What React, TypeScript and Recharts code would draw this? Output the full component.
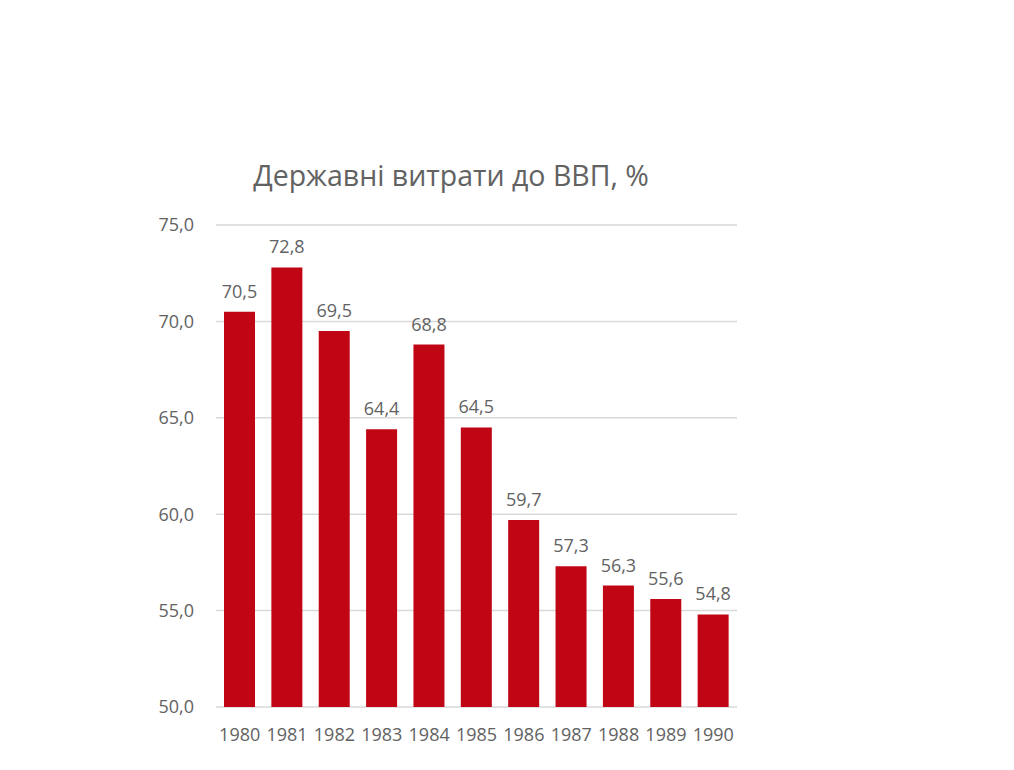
import React from 'react';
import { BarChart, Bar, XAxis, YAxis, CartesianGrid, LabelList } from 'recharts';

const years = ['1980', '1981', '1982', '1983', '1984', '1985', '1986', '1987', '1988', '1989', '1990'];
const values = [70.5, 72.8, 69.5, 64.4, 68.8, 64.5, 59.7, 57.3, 56.3, 55.6, 54.8];
const yTicks = [50, 55, 60, 65, 70, 75];
const title = 'Державні витрати до ВВП, %';

const data = years.map((y, i) => ({ year: y, value: values[i] }));
const fmt = (v: number) => Number(v).toFixed(1).replace('.', ',');

const FONT = '"Open Sans", "Noto Sans", sans-serif';
const TXT = '#626262';

export default function App() {
  return (
    <div style={{ position: 'relative', width: 1000, height: 754, fontFamily: FONT }}>
      <div
        style={{
          position: 'absolute',
          left: 0,
          top: 148,
          width: 886,
          textAlign: 'center',
          fontSize: 28.5,
          lineHeight: 'normal',
          color: TXT,
          fontFamily: FONT,
        }}
      >
        {title}
      </div>
      <BarChart
        width={1000}
        height={754}
        data={data}
        margin={{ top: 217, right: 271, bottom: 25, left: 0 }}
        style={{ fontFamily: FONT }}
      >
        <CartesianGrid horizontal vertical={false} stroke="#d9d9d9" strokeWidth={1.5} />
        <XAxis
          dataKey="year"
          axisLine={false}
          tickLine={false}
          tickSize={0}
          tickMargin={21}
          height={30}
          interval={0}
          tick={{ fill: TXT, fontSize: 18, fontFamily: FONT }}
        />
        <YAxis
          domain={[50, 75]}
          ticks={yTicks}
          width={208}
          axisLine={false}
          tickLine={false}
          tickSize={0}
          tickMargin={22}
          tickFormatter={fmt}
          tick={{ fill: TXT, fontSize: 18, fontFamily: FONT }}
        />
        <Bar dataKey="value" fill="#C00515" barSize={31} isAnimationActive={false}>
          <LabelList
            dataKey="value"
            position="top"
            offset={14}
            formatter={(v: any) => fmt(v)}
            style={{ fill: TXT, fontSize: 18, fontFamily: FONT }}
          />
        </Bar>
      </BarChart>
    </div>
  );
}
